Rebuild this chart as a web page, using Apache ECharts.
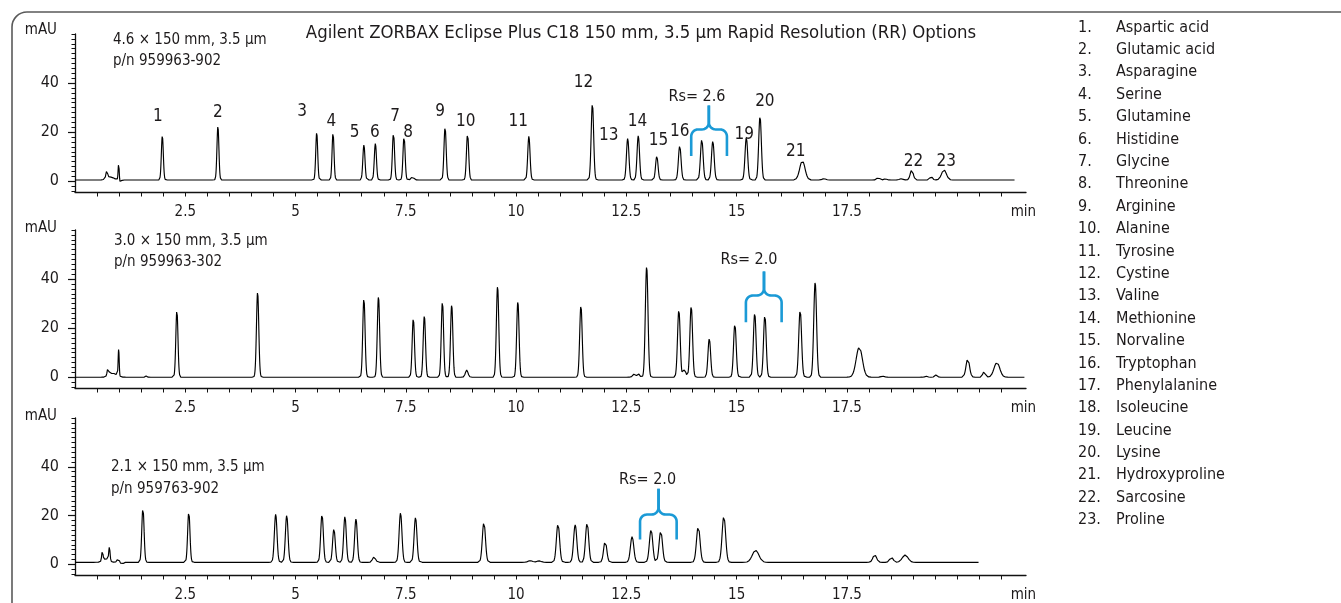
<!DOCTYPE html>
<html>
<head>
<meta charset="utf-8">
<script src="https://cdn.jsdelivr.net/npm/echarts@6/dist/echarts.min.js"></script>
<style>
html,body{margin:0;padding:0;background:#fff;}
#chart{width:1341px;height:603px;}
</style>
</head>
<body>
<div id="chart"></div>
<script>
// ---------------- DATA ----------------
const chartTitle = 'Agilent ZORBAX Eclipse Plus C18 150 mm, 3.5 \u00b5m Rapid Resolution (RR) Options';
const columnNames = ['4.6 \u00d7 150 mm, 3.5 \u00b5m', '3.0 \u00d7 150 mm, 3.5 \u00b5m', '2.1 \u00d7 150 mm, 3.5 \u00b5m'];
const partNumbers = ['p/n 959963-902', 'p/n 959963-302', 'p/n 959763-902'];
const aminoAcids = ['Aspartic acid','Glutamic acid','Asparagine','Serine','Glutamine','Histidine','Glycine','Threonine','Arginine','Alanine','Tyrosine','Cystine','Valine','Methionine','Norvaline','Tryptophan','Phenylalanine','Isoleucine','Leucine','Lysine','Hydroxyproline','Sarcosine','Proline'];

// axis ticks / labels (minutes, mAU)
const xLabelValues = [2.5, 5, 7.5, 10, 12.5, 15, 17.5];
const xUnitLabel = 'min';
const xUnitAt = 21.5;
const yLabelValues = [0, 20, 40];

// Panel 1: 4.6 x 150 mm — retention time (min), height (mAU), peak sigma (min)
const p1Times   = [0.72, 0.80, 0.99, 1.03, 1.98, 3.24, 5.48, 5.85, 6.55, 6.81, 7.22, 7.46, 7.65, 8.39, 8.90, 10.29, 11.73, 12.53, 12.77, 13.19, 13.71, 14.21, 14.46, 15.22, 15.53, 16.49, 16.98, 18.21, 18.37, 18.73, 18.97, 19.41, 19.70];
const p1Heights = [3.0, 1.2, 6.8, -1.0, 18.0, 21.9, 19.3, 19.3, 14.3, 14.9, 19.3, 17.8, 1.3, 21.5, 18.9, 17.8, 31.1, 16.9, 18.0, 9.7, 13.9, 16.5, 15.8, 17.3, 25.9, 7.8, 0.5, 1.0, 0.5, 0.5, 4.1, 1.4, 4.1];
const p1Sigmas  = [0.02, 0.08, 0.012, 0.02, 0.022, 0.022, 0.022, 0.022, 0.024, 0.024, 0.024, 0.024, 0.03, 0.025, 0.025, 0.026, 0.028, 0.028, 0.028, 0.028, 0.03, 0.03, 0.03, 0.03, 0.03, 0.06, 0.04, 0.03, 0.03, 0.04, 0.035, 0.03, 0.055];
const p1Baseline = 0.5;
const p1End = 21.31;

// Panel 2: 3.0 x 150 mm
const p2Times   = [0.75, 0.86, 0.99, 1.62, 2.31, 4.14, 6.55, 6.88, 7.67, 7.92, 8.33, 8.54, 8.88, 9.58, 10.04, 11.47, 12.67, 12.77, 12.96, 13.69, 13.82, 13.97, 14.38, 14.96, 15.41, 15.64, 16.44, 16.78, 17.78, 18.31, 19.30, 19.52, 20.24, 20.61, 20.90];
const p2Heights = [3.4, 1.6, 11.0, 0.6, 27.4, 34.7, 32.3, 32.9, 24.0, 25.0, 30.9, 29.5, 2.9, 37.1, 30.8, 29.3, 1.2, 1.4, 45.1, 27.4, 3.0, 29.0, 15.7, 21.7, 26.1, 25.4, 27.4, 38.7, 12.3, 0.4, 0.4, 0.9, 7.5, 2.3, 6.0];
const p2Sigmas  = [0.02, 0.08, 0.012, 0.015, 0.024, 0.026, 0.026, 0.026, 0.026, 0.026, 0.026, 0.026, 0.03, 0.027, 0.027, 0.028, 0.03, 0.03, 0.03, 0.03, 0.03, 0.03, 0.03, 0.03, 0.03, 0.03, 0.032, 0.032, 0.07, 0.04, 0.03, 0.03, 0.04, 0.03, 0.065];
const p2Baseline = 0;
const p2End = 21.53;

// Panel 3: 2.1 x 150 mm
const p3Times   = [0.62, 0.70, 0.78, 0.98, 1.06, 1.54, 2.58, 4.55, 4.80, 5.60, 5.87, 6.12, 6.37, 6.78, 7.38, 7.72, 9.27, 10.32, 10.52, 10.95, 11.34, 11.61, 12.02, 12.63, 13.06, 13.28, 14.13, 14.71, 15.43, 18.13, 18.51, 18.82];
const p3Heights = [4.0, 1.4, 5.6, 1.6, -0.8, 22.3, 20.8, 19.7, 19.3, 19.7, 13.7, 18.8, 17.8, 2.2, 20.3, 18.4, 16.5, 0.7, 0.6, 15.8, 15.4, 16.2, 8.7, 10.5, 13.3, 12.8, 14.8, 18.9, 4.9, 3.1, 2.0, 3.0];
const p3Sigmas  = [0.015, 0.07, 0.015, 0.025, 0.03, 0.026, 0.026, 0.03, 0.03, 0.03, 0.03, 0.03, 0.03, 0.035, 0.032, 0.032, 0.035, 0.05, 0.05, 0.036, 0.036, 0.036, 0.036, 0.038, 0.038, 0.038, 0.04, 0.04, 0.075, 0.042, 0.04, 0.065];
const p3Baseline = 0.8;
const p3End = 20.50;

// Peak-number annotations (panel 1): label, time, mAU
const p1LabelText = ['1','2','3','4','5','6','7','8','9','10','11','12','13','14','15','16','19','20','21','22','23'];
const p1LabelTime = [1.88, 3.24, 5.15, 5.81, 6.34, 6.80, 7.26, 7.55, 8.28, 8.86, 10.05, 11.53, 12.10, 12.75, 13.23, 13.71, 15.17, 15.64, 16.34, 19.01, 19.75];
const p1LabelMau  = [26.2, 27.9, 28.3, 24.2, 19.9, 19.9, 26.2, 19.9, 28.3, 24.2, 24.2, 40.1, 18.8, 24.2, 16.7, 20.1, 19.2, 32.4, 12.0, 8.2, 8.2];

// Resolution brackets: [start, end, centre] (min), [arm bottom, bar, tip] (mAU), text pos, text
const rsStart  = [13.97, 15.21, 12.81];
const rsEnd    = [14.78, 16.02, 13.64];
const rsCentre = [14.37, 15.62, 13.23];
const rsArm    = [10.3, 22.4, 10.2];
const rsBar    = [21.1, 33.3, 20.4];
const rsTip    = [30.9, 43.1, 31.0];
const rsTextT  = [14.10, 15.28, 12.98];
const rsTextY  = [34.2, 47.9, 34.7];
const rsText   = ['Rs= 2.6', 'Rs= 2.0', 'Rs= 2.0'];

// ---------------- BUILD ----------------
const TEXT_FONT = "'DejaVu Sans Condensed','Liberation Sans Narrow',sans-serif";
const NUM_FONT = "'Liberation Sans Narrow','DejaVu Sans Condensed',sans-serif";
const INK = '#1d1a1b';
const BLUE = '#1b9ad6';

function buildTrace(times, heights, sigmas, base, end) {
  const pts = [];
  const step = 0.004;
  for (let t = 0; t <= end + 1e-9; t += step) {
    let y = base;
    for (let k = 0; k < times.length; k++) {
      const d = (t - times[k]) / sigmas[k];
      if (d > -8 && d < 8) y += heights[k] * Math.exp(-0.5 * d * d);
    }
    pts.push([+t.toFixed(3), y]);
  }
  return pts;
}

const traces = [
  buildTrace(p1Times, p1Heights, p1Sigmas, p1Baseline, p1End),
  buildTrace(p2Times, p2Heights, p2Sigmas, p2Baseline, p2End),
  buildTrace(p3Times, p3Heights, p3Sigmas, p3Baseline, p3End)
];

const xTickValues = [];
for (let v = 0.5; v <= 21.001; v += 0.5) xTickValues.push(+v.toFixed(1));
const yMinorTicks = [];
for (let v = -4; v <= 60; v += 2) yMinorTicks.push(v);

const gridTops = [34, 230, 418];
const gridHeights = [158, 158, 157];
const X_MAX = 21.56, Y_MIN = -4.4, Y_MAX = 60;

function makeBrace(panel) {
  return function (params, api) {
    const p1 = api.coord([api.value(0), api.value(3)]);
    const p2 = api.coord([api.value(1), api.value(4)]);
    const pc = api.coord([api.value(2), api.value(5)]);
    const pt = api.coord([api.value(6), api.value(7)]);
    const x1 = p1[0], yA = p1[1], x2 = p2[0], yB = p2[1], xc = pc[0], yT = pc[1];
    const r = 7;
    function arc(cx, cy, a0, a1) {
      const out = [];
      for (let s = 0; s <= 8; s++) {
        const a = a0 + (a1 - a0) * s / 8;
        out.push([cx + r * Math.cos(a), cy + r * Math.sin(a)]);
      }
      return out;
    }
    const PI = Math.PI;
    const left = [[x1, yA]].concat(arc(x1 + r, yB + r, PI, 1.5 * PI), arc(xc - r, yB - r, 0.5 * PI, 0), [[xc, yT]]);
    const right = [[x2, yA]].concat(arc(x2 - r, yB + r, 0, -0.5 * PI), arc(xc + r, yB - r, 0.5 * PI, PI), [[xc, yT]]);
    const st = { stroke: BLUE, lineWidth: 2.6, fill: null, lineJoin: 'round' };
    return {
      type: 'group', children: [
        { type: 'polyline', shape: { points: left }, style: st },
        { type: 'polyline', shape: { points: right }, style: st },
        { type: 'text', x: pt[0], y: pt[1], style: { text: rsText[panel], fill: INK, font: '16px ' + TEXT_FONT, textAlign: 'center', textVerticalAlign: 'middle' } }
      ]
    };
  };
}

const grids = [], xAxes = [], yAxes = [], series = [];
for (let i = 0; i < 3; i++) {
  grids.push({ left: 75, right: 315, top: gridTops[i], height: gridHeights[i], containLabel: false });
  xAxes.push({
    gridIndex: i, type: 'value', min: 0, max: X_MAX,
    axisLine: { onZero: false, lineStyle: { color: '#111', width: 1.3 } },
    axisTick: { show: true, customValues: xTickValues, length: 4.5, lineStyle: { color: '#111', width: 1 } },
    axisLabel: {
      customValues: xLabelValues.concat([xUnitAt]), margin: 13, fontSize: 15, color: INK, fontFamily: NUM_FONT,
      formatter: v => (Math.abs(v - xUnitAt) < 1e-6 ? xUnitLabel : String(v))
    },
    splitLine: { show: false }
  });
  yAxes.push({
    gridIndex: i, type: 'value', min: Y_MIN, max: Y_MAX,
    axisLine: { show: true, lineStyle: { color: '#111', width: 1.3 } },
    axisTick: { show: true, customValues: yMinorTicks, length: 3.5, lineStyle: { color: '#111', width: 1 } },
    axisLabel: { customValues: yLabelValues, margin: 16, fontSize: 16, color: INK, fontFamily: NUM_FONT },
    splitLine: { show: false }
  });
  yAxes.push({
    gridIndex: i, type: 'value', min: Y_MIN, max: Y_MAX, position: 'left',
    axisLine: { show: false },
    axisTick: { show: true, customValues: yLabelValues, length: 7, lineStyle: { color: '#111', width: 1.2 } },
    axisLabel: { show: false },
    splitLine: { show: false }
  });
  series.push({
    type: 'line', xAxisIndex: i, yAxisIndex: 2 * i, data: traces[i],
    showSymbol: false, symbol: 'none', sampling: false, animation: false,
    lineStyle: { color: '#000', width: 1.15 }, z: 3
  });
  series.push({
    type: 'custom', xAxisIndex: i, yAxisIndex: 2 * i, animation: false, z: 4,
    data: [[rsStart[i], rsEnd[i], rsCentre[i], rsArm[i], rsBar[i], rsTip[i], rsTextT[i], rsTextY[i]]],
    renderItem: makeBrace(i)
  });
}

series.push({
  type: 'scatter', xAxisIndex: 0, yAxisIndex: 0, animation: false, z: 5,
  symbol: 'circle', symbolSize: 0.01, itemStyle: { color: INK, opacity: 1 },
  data: p1LabelText.map((t, k) => ({ name: t, value: [p1LabelTime[k], p1LabelMau[k]] })),
  label: { show: true, position: 'inside', formatter: '{b}', fontSize: 17, color: INK, fontFamily: NUM_FONT, textBorderWidth: 0, opacity: 1 },
  emphasis: { disabled: true }
});

const graphics = [
  { type: 'rect', shape: { x: 12, y: 12, width: 1400, height: 700, r: [15, 0, 0, 0] }, style: { fill: null, stroke: '#5a5a5a', lineWidth: 1.6 }, silent: true, z: 0 },
  { type: 'text', x: 641, y: 33, style: { text: chartTitle, fill: INK, font: '18.4px ' + TEXT_FONT, textAlign: 'center', textVerticalAlign: 'middle' } }
];
const mauY = [30, 228, 416];
const annY1 = [40, 241, 467];
const annY2 = [61, 262, 489];
const annX = [113, 114, 111];
for (let i = 0; i < 3; i++) {
  graphics.push({ type: 'text', x: 57, y: mauY[i], style: { text: 'mAU', fill: INK, font: '15px ' + TEXT_FONT, textAlign: 'right', textVerticalAlign: 'middle' } });
  graphics.push({ type: 'text', x: annX[i], y: annY1[i], style: { text: columnNames[i], fill: INK, font: '15px ' + TEXT_FONT, textAlign: 'left', textVerticalAlign: 'middle' } });
  graphics.push({ type: 'text', x: annX[i], y: annY2[i], style: { text: partNumbers[i], fill: INK, font: '15px ' + TEXT_FONT, textAlign: 'left', textVerticalAlign: 'middle' } });
}
aminoAcids.forEach((name, k) => {
  const y = 27.5 + k * 22.39;
  graphics.push({ type: 'text', x: 1078, y: y, style: { text: (k + 1) + '.', fill: INK, font: '16px ' + TEXT_FONT, textAlign: 'left', textVerticalAlign: 'middle' } });
  graphics.push({ type: 'text', x: 1116, y: y, style: { text: name, fill: INK, font: '16px ' + TEXT_FONT, textAlign: 'left', textVerticalAlign: 'middle' } });
});

const chart = echarts.init(document.getElementById('chart'), null, { renderer: 'canvas' });
chart.setOption({
  animation: false,
  backgroundColor: '#fff',
  grid: grids,
  xAxis: xAxes,
  yAxis: yAxes,
  series: series,
  graphic: graphics
});
</script>
</body>
</html>
